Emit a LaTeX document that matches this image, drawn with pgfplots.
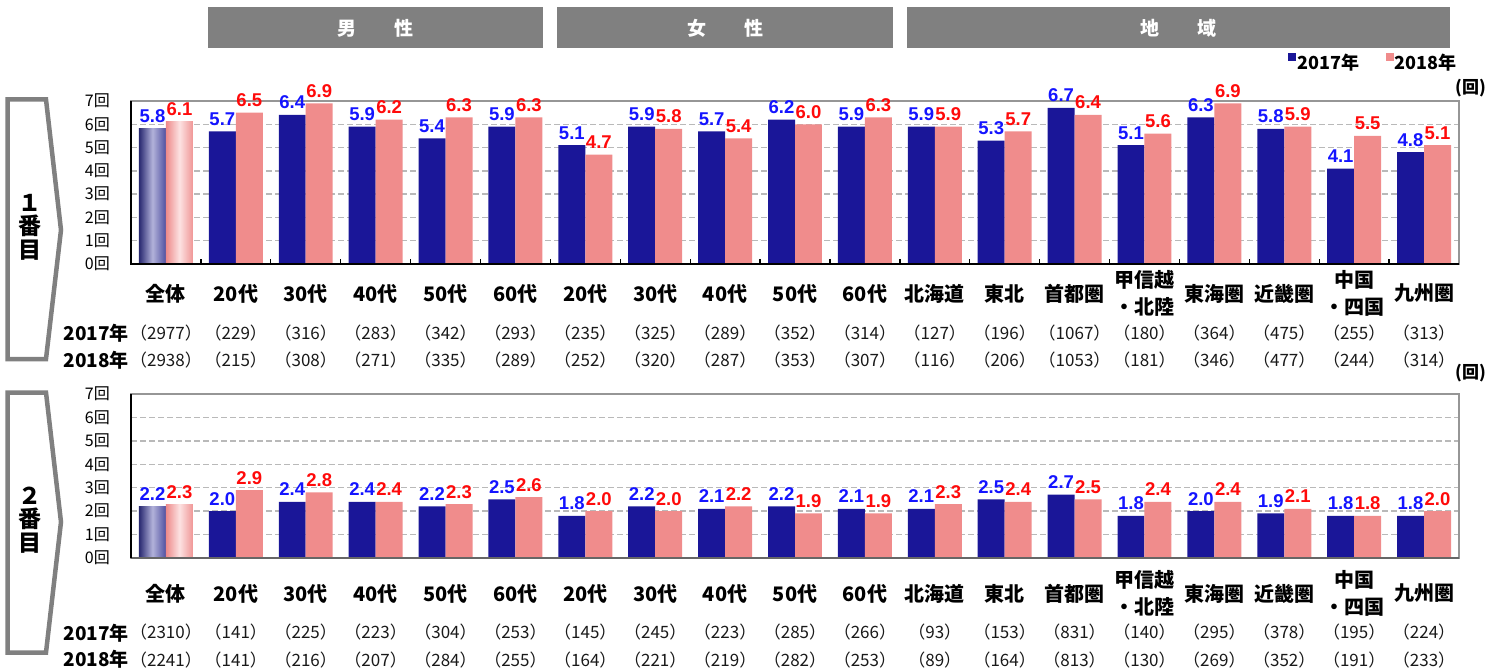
\documentclass[border=0pt]{standalone}
\usepackage{pgfplots}
\usepackage{pgfplotstable}
\pgfplotsset{compat=1.18}
\usepackage{fontspec}
\setmainfont{Noto Sans CJK JP}
\newfontfamily\numfont{Liberation Sans}
\definecolor{barblue}{RGB}{26,22,152}
\definecolor{barpink}{RGB}{240,140,140}
\definecolor{hdr}{RGB}{128,128,128}
\definecolor{lblblue}{RGB}{20,20,255}
\definecolor{lblred}{RGB}{255,10,10}
\definecolor{gridc}{RGB}{185,185,185}
\definecolor{framec}{RGB}{150,150,150}
\definecolor{shbA}{RGB}{40,40,112}
\definecolor{shbB}{RGB}{178,178,218}
\definecolor{shbC}{RGB}{80,80,160}
\definecolor{shpA}{RGB}{238,138,138}
\definecolor{shpB}{RGB}{252,226,226}
\definecolor{shpC}{RGB}{240,150,150}

\pgfplotstableread{
x y17 y18
0 5.8 6.1
1 5.7 6.5
2 6.4 6.9
3 5.9 6.2
4 5.4 6.3
5 5.9 6.3
6 5.1 4.7
7 5.9 5.8
8 5.7 5.4
9 6.2 6.0
10 5.9 6.3
11 5.9 5.9
12 5.3 5.7
13 6.7 6.4
14 5.1 5.6
15 6.3 6.9
16 5.8 5.9
17 4.1 5.5
18 4.8 5.1
}\tabA

\pgfplotstableread{
x y17 y18
0 2.2 2.3
1 2.0 2.9
2 2.4 2.8
3 2.4 2.4
4 2.2 2.3
5 2.5 2.6
6 1.8 2.0
7 2.2 2.0
8 2.1 2.2
9 2.2 1.9
10 2.1 1.9
11 2.1 2.3
12 2.5 2.4
13 2.7 2.5
14 1.8 2.4
15 2.0 2.4
16 1.9 2.1
17 1.8 1.8
18 1.8 2.0
}\tabB

\tikzset{
  cnt/.style={font=\fontsize{17}{17}\selectfont, text=black!90, inner sep=0pt},
  rowlab/.style={font=\fontsize{19}{19}\selectfont\bfseries, anchor=east, inner sep=0pt},
}

\newcommand\countrow[2]{%
  \foreach \c [count=\i from 0] in {#2}{%
    \edef\tmp{\noexpand\node[cnt, yshift=#1] at (axis cs:\i,0) {（\c）};}\tmp
  }}

\pgfplotsset{
  panel/.style={
    scale only axis, width=1328pt,
    anchor=south west,
    xmin=-0.5, xmax=18.5, ymin=0, ymax=7,
    xtick={0,...,18},
    xticklabels={全体,20代,30代,40代,50代,60代,20代,30代,40代,50代,60代,北海道,東北,首都圏,{甲信越\\・北陸},東海圏,近畿圏,{中国\\・四国},九州圏},
    ytick={0,...,7},
    yticklabels={0回,1回,2回,3回,4回,5回,6回,7回},
    ymajorgrids,
    major grid style={draw=gridc, line width=1.5pt, dash pattern=on 6pt off 3pt},
    axis line style={draw=framec, line width=2pt},
    xtick pos=bottom, ytick pos=left,
    major tick length=0pt,
    clip=false,
    xticklabel style={font=\fontsize{20}{27.5}\selectfont\bfseries, align=center, anchor=center},
    yticklabel style={font=\fontsize{16}{16}\selectfont, anchor=east, inner sep=0pt, xshift=-21pt},
  },
  lab/.style 2 args={
    nodes near coords={\pgfmathprintnumber[fixed,fixed zerofill,precision=1,assume math mode=true]{\pgfplotspointmeta}},
    point meta=y,
    every node near coord/.append style={font=\numfont\bfseries\fontsize{18.5}{18.5}\selectfont, text=#1, anchor=base, yshift=6pt, xshift=#2, inner sep=0pt},
  },
  bblue/.style={ybar, bar width=0.386, bar shift=-0.193, draw=none, lab={lblblue}{-13.5pt}, forget plot},
  bpink/.style={ybar, bar width=0.386, bar shift=0.193, draw=none, lab={lblred}{13.5pt}, forget plot},
}

\begin{document}
\begin{tikzpicture}[x=1pt,y=1pt]
\useasboundingbox (0,0) rectangle (1487,670);

% header bars
\fill[hdr] (208,663) rectangle (543,621.5);
\fill[hdr] (557,663) rectangle (893,621.5);
\fill[hdr] (907,663) rectangle (1450,621.5);
\node[text=white, font=\fontsize{19}{19}\selectfont\bfseries] at (375.5,642) {男　　性};
\node[text=white, font=\fontsize{19}{19}\selectfont\bfseries] at (725,642) {女　　性};
\node[text=white, font=\fontsize{19}{19}\selectfont\bfseries] at (1178.5,642) {地　　域};

% left arrow boxes
\draw[hdr, line width=4.5pt, line join=miter] (7.5,570.5) -- (46,570.5) -- (61,440) -- (46,311) -- (7.5,311) -- cycle;
\draw[hdr, line width=4.5pt, line join=miter] (7.5,277.5) -- (46,277.5) -- (61,148) -- (46,17.5) -- (7.5,17.5) -- cycle;
\node[font=\fontsize{23}{23.5}\selectfont\bfseries, align=center] at (30,443) {１\\番\\目};
\node[font=\fontsize{23}{23.5}\selectfont\bfseries, align=center] at (30,150) {２\\番\\目};

% panel 1
\begin{axis}[panel, at={(131pt,406pt)}, height=163pt,
  xticklabel style={yshift=-29.5pt},
  minor xtick={0.5,1.5,...,17.5}, minor tick length=5pt,
  minor x tick style={black, line width=1.3pt},
  legend columns=2,
  legend style={draw=none, fill=none, at={(1,1)}, anchor=east, yshift=38pt, xshift=3pt,
    font=\fontsize{18}{18}\selectfont\bfseries,
    nodes={inner sep=2pt},
    /tikz/every even column/.append style={column sep=24pt}},
]
\addlegendimage{legend image code/.code={\fill[barblue] (0pt,3pt) rectangle (7pt,10pt);}}
\addlegendentry{2017年}
\addlegendimage{legend image code/.code={\fill[barpink] (0pt,3pt) rectangle (7pt,10pt);}}
\addlegendentry{2018年}
\addplot[bblue, fill=barblue, restrict x to domain=0.9:18.1] table[x=x,y=y17]{\tabA};
\addplot[bpink, fill=barpink, restrict x to domain=0.9:18.1] table[x=x,y=y18]{\tabA};
\addplot[bblue, left color=shbA, right color=shbC, middle color=shbB, restrict x to domain=-0.1:0.1] table[x=x,y=y17]{\tabA};
\addplot[bpink, left color=shpA, right color=shpC, middle color=shpB, restrict x to domain=-0.1:0.1] table[x=x,y=y18]{\tabA};
\draw[black, line width=2pt] (rel axis cs:0,1) -- (rel axis cs:0,0) -- (rel axis cs:1,0);
\countrow{-69pt}{2977,229,316,283,342,293,235,325,289,352,314,127,196,1067,180,364,475,255,313}
\countrow{-96pt}{2938,215,308,271,335,289,252,320,287,353,307,116,206,1053,181,346,477,244,314}
\end{axis}
\node[rowlab] at (129,337) {2017年};
\node[rowlab] at (129,310) {2018年};
\node[font=\fontsize{17}{17}\selectfont\bfseries, anchor=east, inner sep=0pt] at (1486,582) {(回)};

% panel 2
\begin{axis}[panel, at={(131pt,112pt)}, height=164pt,
  xticklabel style={yshift=-35.5pt},
]
\addplot[bblue, fill=barblue, restrict x to domain=0.9:18.1] table[x=x,y=y17]{\tabB};
\addplot[bpink, fill=barpink, restrict x to domain=0.9:18.1] table[x=x,y=y18]{\tabB};
\addplot[bblue, left color=shbA, right color=shbC, middle color=shbB, restrict x to domain=-0.1:0.1] table[x=x,y=y17]{\tabB};
\addplot[bpink, left color=shpA, right color=shpC, middle color=shpB, restrict x to domain=-0.1:0.1] table[x=x,y=y18]{\tabB};
\draw[black!60, line width=2pt] (rel axis cs:0,0) -- (rel axis cs:1,0);
\draw[black, line width=2pt] (rel axis cs:0,1) -- (rel axis cs:0,0);
\countrow{-74.5pt}{2310,141,225,223,304,253,145,245,223,285,266,93,153,831,140,295,378,195,224}
\countrow{-102pt}{2241,141,216,207,284,255,164,221,219,282,253,89,164,813,130,269,352,191,233}
\end{axis}
\node[rowlab] at (129,37) {2017年};
\node[rowlab] at (129,11) {2018年};
\node[font=\fontsize{17}{17}\selectfont\bfseries, anchor=east, inner sep=0pt] at (1486,297) {(回)};
\end{tikzpicture}
\end{document}
